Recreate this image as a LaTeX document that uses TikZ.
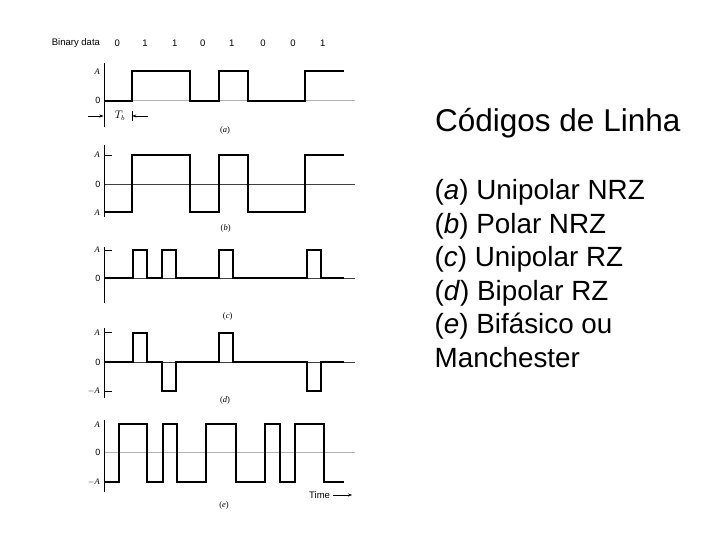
\documentclass[tikz,border=0pt]{standalone}
\usepackage{fontspec}
\setmainfont{Liberation Serif}
\setsansfont{Liberation Sans}
\newfontfamily\arialf{Liberation Sans}
\usetikzlibrary{arrows.meta}
\begin{document}
\begin{tikzpicture}[x=1pt,y=-1pt,
  wave/.style={line width=2pt, line join=miter},
  axisline/.style={line width=0.9pt},
  zeroline/.style={line width=0.8pt, black!75},
  greyline/.style={line width=1pt, black!30},
  lvl/.style={anchor=east, inner sep=0pt, font=\fontsize{8.5}{9}\selectfont\itshape},
  zlab/.style={anchor=east, inner sep=0pt, font=\fontsize{9}{10}\selectfont\sffamily},
  captext/.style={inner sep=0pt, font=\fontsize{8.5}{9}\selectfont},
  small/.style={inner sep=0pt, font=\fontsize{9.5}{11}\selectfont\sffamily},
  bigtext/.style={anchor=base west, inner sep=0pt, font=\arialf\fontsize{27.8}{33}\selectfont},
  titletext/.style={anchor=base west, inner sep=0pt, font=\arialf\fontsize{31.5}{37}\selectfont}]
\useasboundingbox (0,0) rectangle (720,540);
\fill[white] (0,0) rectangle (720,540);

% Binary data row
\node[small, anchor=west] (bd) at (51.7,43) {Binary data};
\node[small] (d1) at (117.3,43) {0};
\node[small] (d2) at (145,43) {1};
\node[small] (d3) at (174.7,43) {1};
\node[small] (d4) at (202.7,43) {0};
\node[small] (d5) at (231.7,43) {1};
\node[small] (d6) at (263,43) {0};
\node[small] (d7) at (293,43) {0};
\node[small] (d8) at (322.7,43) {1};

% ---------- (a) Unipolar NRZ ----------
\draw[greyline] (104,100.7) -- (355,100.7);
\draw[axisline] (104,63) -- (104,127);
\draw[wave] (104,100.7) -- (132.3,100.7) -- (132.3,71.3) -- (189.9,71.3) -- (189.9,100.7)
  -- (218.7,100.7) -- (218.7,71.3) -- (247.5,71.3) -- (247.5,100.7) -- (305.1,100.7)
  -- (305.1,71.3) -- (344,71.3);
\node[lvl] (aA) at (100,71.3) {A};
\node[zlab] (a0) at (100.5,100.7) {0};
\node[inner sep=0pt, font=\fontsize{10.5}{11}\selectfont] (tb) at (120,116) {$T_b$};
\draw[line width=0.5pt, -{Stealth[length=4pt,width=3pt]}] (88,116) -- (103.5,116);
\draw[line width=0.6pt] (132.3,111) -- (132.3,121);
\draw[line width=0.5pt, -{Stealth[length=4pt,width=3pt]}] (148,116) -- (132.3,116);
\node[captext] (ca) at (225,130) {(\textit{a})};

% ---------- (b) Polar NRZ ----------
\draw[zeroline] (104,184.3) -- (355,184.3);
\draw[axisline] (104,145) -- (104,217);
\draw[axisline] (104,155) -- (112,155);
\draw[axisline] (104,212.3) -- (112,212.3);
\draw[wave] (104,212.3) -- (132.3,212.3) -- (132.3,155) -- (189.9,155) -- (189.9,212.3)
  -- (218.7,212.3) -- (218.7,155) -- (247.5,155) -- (247.5,212.3) -- (305.1,212.3)
  -- (305.1,155) -- (344,155);
\node[lvl] (bA) at (100,155) {A};
\node[zlab] (b0) at (100.5,184.3) {0};
\node[lvl] (bm) at (100,212.3) {A};
\node[captext] (cb) at (225.7,228) {(\textit{b})};

% ---------- (c) Unipolar RZ ----------
\draw[zeroline] (104,278.3) -- (355,278.3);
\draw[axisline] (104,246.7) -- (104,303);
\draw[axisline] (104,250) -- (112,250);
\draw[wave] (104,278.3) -- (132.8,278.3) -- (132.8,250) -- (147.2,250) -- (147.2,278.3)
  -- (161.6,278.3) -- (161.6,250) -- (175.6,250) -- (175.6,278.3)
  -- (218.9,278.3) -- (218.9,250) -- (232.6,250) -- (232.6,278.3)
  -- (306.5,278.3) -- (306.5,250) -- (320.8,250) -- (320.8,278.3) -- (344,278.3);
\node[lvl] (cA) at (100,250) {A};
\node[zlab] (c0) at (100.5,278.3) {0};
\node[captext] (cc) at (227.7,316.7) {(\textit{c})};

% ---------- (d) Bipolar RZ ----------
\draw[zeroline] (104,362) -- (355,362);
\draw[axisline] (104,328) -- (104,398);
\draw[axisline] (104,332.7) -- (112,332.7);
\draw[axisline] (104,391) -- (112,391);
\draw[wave] (104,362) -- (132.8,362) -- (132.8,332.7) -- (147.2,332.7) -- (147.2,362)
  -- (161.6,362) -- (161.6,391) -- (175.6,391) -- (175.6,362)
  -- (218.9,362) -- (218.9,332.7) -- (232.6,332.7) -- (232.6,362)
  -- (306.5,362) -- (306.5,391) -- (320.8,391) -- (320.8,362) -- (344,362);
\node[lvl] (dA) at (100,332.7) {A};
\node[zlab] (d0) at (100.5,362) {0};
\node[lvl] (dm) at (100,391) {$-$A};
\node[captext] (cd) at (225,400.7) {(\textit{d})};

% ---------- (e) Manchester ----------
\draw[greyline] (104,452.3) -- (355,452.3);
\draw[axisline] (104,420) -- (104,492);
\draw[wave] (104,481.7) -- (119,481.7) -- (119,424.3) -- (147,424.3) -- (147,481.7)
  -- (163.3,481.7) -- (163.3,424.3) -- (176.7,424.3) -- (176.7,481.7)
  -- (205.7,481.7) -- (205.7,424.3) -- (235.7,424.3) -- (235.7,481.7)
  -- (265,481.7) -- (265,424.3) -- (280,424.3) -- (280,481.7)
  -- (295,481.7) -- (295,424.3) -- (324,424.3) -- (324,481.7) -- (344,481.7);
\node[lvl] (eA) at (100,424.3) {A};
\node[zlab] (e0) at (100.5,452.3) {0};
\node[lvl] (em) at (100,481.7) {$-$A};
\node[small, anchor=west] (time) at (309,495) {Time};
\coordinate (tend) at (352,495);
\draw[line width=0.5pt, -{Stealth[length=4pt,width=3pt]}] (time.east) ++(3,0) -- (tend);
\node[captext] (ce) at (224,505) {(\textit{e})};

% ---------- right-hand text ----------
\node[titletext] (title) at (435,132) {Códigos de Linha};
\node[bigtext] (la) at (434.5,200) {(\textit{a}) Unipolar NRZ};
\node[bigtext] (lb) at (434.5,233.4) {(\textit{b}) Polar NRZ};
\node[bigtext] (lc) at (434.5,266.8) {(\textit{c}) Unipolar RZ};
\node[bigtext] (ld) at (434.5,300.2) {(\textit{d}) Bipolar RZ};
\node[bigtext] (le) at (434.5,333.6) {(\textit{e}) Bifásico ou};
\node[bigtext] (lf) at (434.5,367) {Manchester};
\end{tikzpicture}
\end{document}
